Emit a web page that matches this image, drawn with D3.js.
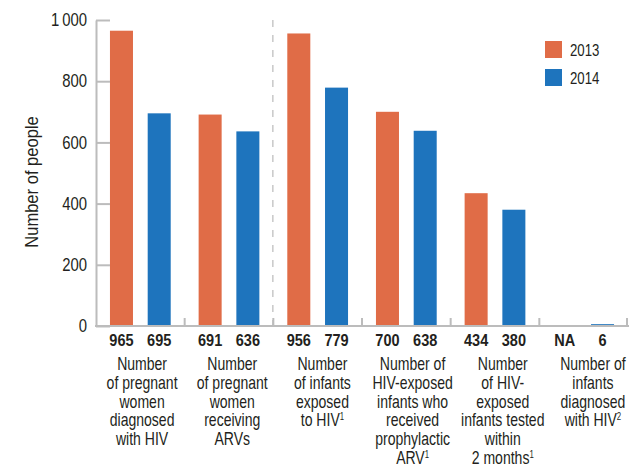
<!DOCTYPE html>
<html>
<head>
<meta charset="utf-8">
<script src="https://cdn.jsdelivr.net/npm/d3@7"></script>
<style>
  body { margin: 0; background: #fff; }
  svg text { font-family: "Liberation Sans", Arial, sans-serif; fill: #231f20; }
</style>
</head>
<body>
<svg id="chart"></svg>
<script>
const categories = ["pw_diag", "pw_arv", "inf_exp", "inf_proph", "inf_test", "inf_diag"];
const years = ["2013", "2014"];
const values2013 = [965, 691, 956, 700, 434, null];
const values2014 = [695, 636, 779, 638, 380, 6];
const labels2013 = ["965", "691", "956", "700", "434", "NA"];
const labels2014 = ["695", "636", "779", "638", "380", "6"];
const categoryLines = [
    ["Number", "of pregnant", "women", "diagnosed", "with HIV"],
    ["Number", "of pregnant", "women", "receiving", "ARVs"],
    ["Number", "of infants", "exposed", "to HIV"],
    ["Number of", "HIV-exposed", "infants who", "received", "prophylactic", "ARV"],
    ["Number", "of HIV-", "exposed", "infants tested", "within", "2 months"],
    ["Number of", "infants", "diagnosed", "with HIV"]
];
const footnotes = ["", "", "1", "1", "1", "2"];
const yTicks = [0, 200, 400, 600, 800, 1000];
const colors = { "2013": "#e06c47", "2014": "#1e74bd" };

// the reference uses a condensed face; squeeze Liberation Sans horizontally
const NARROW = 0.8;

const W = 629, H = 466;
const svg = d3.select("#chart").attr("width", W).attr("height", H);

const x = d3.scaleBand().domain(categories).range([96, 628]).padding(0);
const xLabel = d3.scaleBand().domain(categories).range([97, 638]).padding(0);
const xYear = d3.scaleBand().domain(years).range([0, x.bandwidth()]).paddingInner(0.39).paddingOuter(0.37);
const y = d3.scaleLinear().domain([0, 1000]).range([326, 20]);

const rows = categories.map((c, i) => years.map(yr => ({
    cat: c,
    year: yr,
    value: yr === "2013" ? values2013[i] : values2014[i],
    label: yr === "2013" ? labels2013[i] : labels2014[i]
})));

// dashed divider between women and infants
svg.append("line")
    .attr("x1", x(categories[2]) - 0.5).attr("x2", x(categories[2]) - 0.5)
    .attr("y1", y(1000)).attr("y2", y(0))
    .attr("stroke", "#c8c8c8").attr("stroke-width", 1.5)
    .attr("stroke-dasharray", "7,8");

// bars
svg.append("g").selectAll("g")
    .data(rows)
    .enter().append("g")
    .attr("transform", d => `translate(${x(d[0].cat)},0)`)
    .selectAll("rect")
    .data(d => d.filter(v => v.value !== null))
    .enter().append("rect")
    .attr("x", d => xYear(d.year))
    .attr("y", d => y(d.value))
    .attr("width", xYear.bandwidth())
    .attr("height", d => y(0) - y(d.value))
    .attr("fill", d => colors[d.year]);

// y axis
const yAxis = svg.append("g")
    .attr("transform", "translate(96,0)")
    .call(d3.axisLeft(y).tickValues(yTicks).tickSizeInner(-14).tickSizeOuter(0).tickPadding(9)
        .tickFormat(d => d === 1000 ? "1\u2009000" : d));
yAxis.select(".domain").attr("stroke", "#bcbcbc").attr("stroke-width", 2);
yAxis.selectAll(".tick line").attr("stroke", "#bcbcbc").attr("stroke-width", 2);
yAxis.selectAll(".tick text")
    .style("font-size", "17.5px")
    .attr("fill", "#231f20")
    .attr("x", -9 / 0.85)
    .attr("transform", "scale(0.85,1)");

// x axis baseline with group ticks
svg.append("line")
    .attr("x1", 95).attr("x2", 629)
    .attr("y1", y(0)).attr("y2", y(0))
    .attr("stroke", "#bcbcbc").attr("stroke-width", 2);
svg.append("g").selectAll("line")
    .data(categories)
    .enter().append("line")
    .attr("x1", d => x(d) + x.bandwidth() - (d === categories[categories.length - 1] ? 1 : 0))
    .attr("x2", d => x(d) + x.bandwidth() - (d === categories[categories.length - 1] ? 1 : 0))
    .attr("y1", y(0) - 8).attr("y2", y(0))
    .attr("stroke", "#bcbcbc").attr("stroke-width", 2);

// value labels
svg.append("g").selectAll("text")
    .data(rows.flat())
    .enter().append("text")
    .attr("transform", d => `translate(${x(d.cat) + xYear(d.year) + xYear.bandwidth() / 2},345.5) scale(0.88,1)`)
    .attr("text-anchor", "middle")
    .style("font-size", "16.5px")
    .style("font-weight", "bold")
    .attr("fill", "#111")
    .text(d => d.label);

// category labels
const cat = svg.append("g").selectAll("text")
    .data(categories)
    .enter().append("text")
    .attr("transform", c => `translate(${xLabel(c) + xLabel.bandwidth() / 2},0) scale(0.78,1)`)
    .attr("text-anchor", "middle")
    .style("font-size", "18px")
    .attr("fill", "#2b2b2b");
cat.each(function(c, i) {
    const t = d3.select(this);
    const lines = categoryLines[i];
    lines.forEach((ln, j) => {
        const ts = t.append("tspan")
            .attr("x", 0)
            .attr("y", 370 + j * 18.8)
            .text(ln);
        if (j === lines.length - 1 && footnotes[i]) {
            ts.append("tspan")
                .attr("dy", -6)
                .style("font-size", "10px")
                .text(footnotes[i]);
        }
    });
});

// y axis title
svg.append("text")
    .attr("transform", "translate(38,182) rotate(-90) scale(0.92,1)")
    .attr("text-anchor", "middle")
    .style("font-size", "18px")
    .attr("fill", "#231f20")
    .text("Number of people");

// legend
const legend = svg.append("g").selectAll("g")
    .data(years)
    .enter().append("g")
    .attr("transform", (d, i) => `translate(545,${41 + i * 28})`);
legend.append("rect")
    .attr("width", 17).attr("height", 17)
    .attr("fill", d => colors[d]);
legend.append("text")
    .attr("transform", `translate(25,14.5) scale(${NARROW},1)`)
    .style("font-size", "16.5px")
    .attr("fill", "#231f20")
    .text(d => d);
</script>
</body>
</html>
